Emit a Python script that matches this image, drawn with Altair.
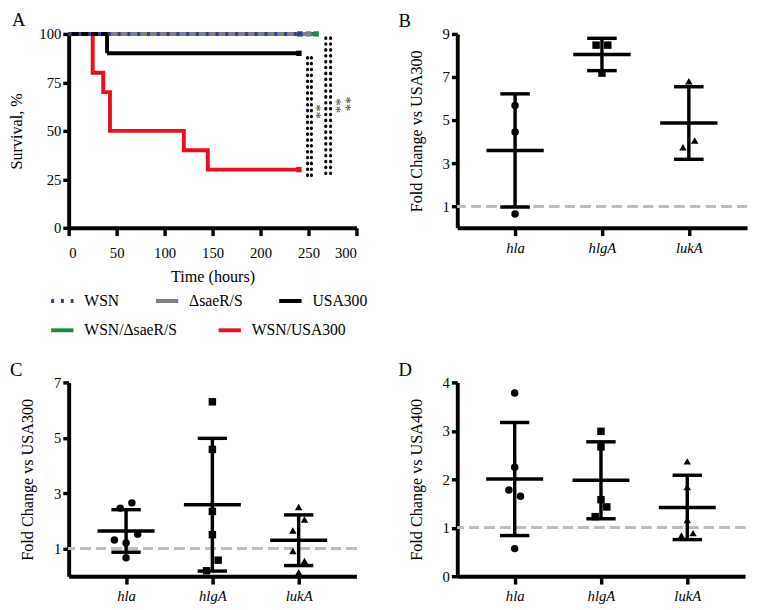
import altair as alt
import pandas as pd

FONT = "Liberation Serif, Times New Roman, serif"

# ---------------- Panel A: survival data ----------------
row1_series = ["WSN", "ΔsaeR/S", "USA300"]
row1_colors = ["#2f3f98", "#7f7f7f", "#000000"]
row2_series = ["WSN/ΔsaeR/S", "WSN/USA300"]
row2_colors = ["#1f8a3e", "#e8101c"]

wsn_time = [0, 241]
wsn_surv = [100, 100]
sae_time = [0, 250]
sae_surv = [100, 100]
usa_time = [0, 40, 240]
usa_surv = [100, 90, 90]
wsnsae_time = [0, 258]
wsnsae_surv = [100, 100]
wsnusa_time = [0, 25, 36, 43, 120, 145, 240]
wsnusa_surv = [100, 80, 70, 50, 40, 30, 30]

time_ticks = [0, 50, 100, 150, 200, 250, 300]
surv_ticks = [0, 25, 50, 75, 100]

sig_x = [249, 253, 268, 273]
sig_lo = [27, 27, 28, 28]
sig_hi = [90, 90, 100, 100]
star_x = [258, 279, 289]
star_y = [60, 63, 64]
star_text = ["**", "**", "**"]

# ---------------- Panels B-D: fold change data ----------------
genes = ["hla", "hlgA", "lukA"]

B_vals = {"hla": [5.68, 4.45, 0.64], "hlgA": [8.48, 8.48, 7.18], "lukA": [6.8, 4.05, 3.74]}
B_jit = {"hla": [0, 0, 0], "hlgA": [-1, 1, 0], "lukA": [0, 1, -1]}

C_vals = {"hla": [2.65, 2.46, 1.52, 1.31, 1.2, 0.67],
          "hlgA": [6.3, 4.58, 2.34, 1.5, 0.58, 0.2],
          "lukA": [2.5, 2.05, 1.65, 0.91, 0.55, 0.14]}
C_jit = {"hla": [1, -1, 2, -2, 0, 0], "hlgA": [0, 0, 0, 0, 1, -1], "lukA": [0, 1, -1, -1, 1, 0]}

D_vals = {"hla": [3.78, 2.25, 1.78, 1.65, 0.57],
          "hlgA": [2.99, 2.67, 1.58, 1.43, 1.23],
          "lukA": [2.37, 1.84, 1.16, 0.84, 0.89]}
D_jit = {"hla": [0, 0, -1, 1, 0], "hlgA": [0, 0, 0, 1, -1], "lukA": [0, 0, 0, -1, 1]}


def letter_title(txt, dx):
    return alt.TitleParams(text=txt, anchor="start", dx=dx, offset=-4, fontSize=19,
                           font=FONT, fontWeight="normal", color="black", frame="group")


# ---------------- Build panel A ----------------
rows = []
for s, ts, vs in [("WSN", wsn_time, wsn_surv), ("ΔsaeR/S", sae_time, sae_surv),
                  ("USA300", usa_time, usa_surv), ("WSN/ΔsaeR/S", wsnsae_time, wsnsae_surv),
                  ("WSN/USA300", wsnusa_time, wsnusa_surv)]:
    for t, v in zip(ts, vs):
        rows.append({"series": s, "time": t, "surv": v})
surv_df = pd.DataFrame(rows)

all_colors = dict(zip(row1_series + row2_series, row1_colors + row2_colors))
ends_df = surv_df.groupby("series", as_index=False).last()
ends_df["hex"] = ends_df["series"].map(all_colors)

sig_df = pd.DataFrame({"x": sig_x, "lo": sig_lo, "hi": sig_hi})
star_df = pd.DataFrame({"x": star_x, "y": star_y, "t": star_text})

AX = dict(labelFont=FONT, titleFont=FONT, labelFontSize=15, titleFontSize=16.5,
          titleFontWeight="normal", labelColor="black", titleColor="black")

xA_scale = alt.Scale(domain=[0, 300], nice=False)
yA_scale = alt.Scale(domain=[0, 100], nice=False)
xA_axis = alt.Axis(values=time_ticks, title="Time (hours)", titlePadding=9, labelPadding=10, **AX)
yA_axis = alt.Axis(values=surv_ticks, title="Survival, %", titlePadding=15, **AX)


def XA(f):
    return alt.X(f, type="quantitative", scale=xA_scale, axis=xA_axis)


def YA(f):
    return alt.Y(f, type="quantitative", scale=yA_scale, axis=yA_axis)


leg_common = dict(orient="none", direction="horizontal", symbolType="stroke",
                  symbolStrokeWidth=4, symbolSize=520, labelFont=FONT, labelFontSize=16,
                  labelOffset=9, title=None, padding=0,
                  labelColor="black", legendX=-20)

leg1 = alt.Legend(legendY=259, columnPadding=29, **leg_common)
leg2 = alt.Legend(legendY=289, columnPadding=34, **leg_common)

color1 = alt.Color("series:N", scale=alt.Scale(domain=row1_series, range=row1_colors), legend=leg1)
dash1 = alt.StrokeDash("series:N", scale=alt.Scale(domain=row1_series, range=[[3, 7], [1, 0], [1, 0]]), legend=leg1)
stroke2 = alt.Stroke("series:N", scale=alt.Scale(domain=row2_series, range=row2_colors), legend=leg2)

baseA = alt.Chart(surv_df)
lines2 = baseA.transform_filter(alt.FieldOneOfPredicate(field="series", oneOf=row2_series)).mark_line(
    interpolate="step-after", strokeWidth=4).encode(x=XA("time"), y=YA("surv"), stroke=stroke2)
lines1 = baseA.transform_filter(alt.FieldOneOfPredicate(field="series", oneOf=["ΔsaeR/S", "USA300"])).mark_line(
    interpolate="step-after", strokeWidth=4).encode(x=XA("time"), y=YA("surv"), color=color1, strokeDash=dash1)
lines_wsn = baseA.transform_filter(alt.FieldEqualPredicate(field="series", equal="WSN")).mark_line(
    interpolate="step-after", strokeWidth=4).encode(x=XA("time"), y=YA("surv"), color=color1, strokeDash=dash1)
ends = alt.Chart(ends_df).mark_square(size=30, filled=True, opacity=1).encode(
    x=XA("time"), y=YA("surv"), fill=alt.Fill("hex:N", scale=None))
sig = alt.Chart(sig_df).mark_rule(strokeDash=[0.5, 5.5], strokeCap="round", strokeWidth=3.2, color="black").encode(
    x=XA("x"), y=YA("lo"), y2="hi")
stars = alt.Chart(star_df).mark_text(angle=90, font=FONT, fontSize=15, color="#444444").encode(
    x=XA("x"), y=YA("y"), text="t:N")

panelA = alt.layer(lines2, lines1, lines_wsn, ends, sig, stars).properties(
    width=294, height=198, title=letter_title("A", -58))


# ---------------- Build gene panels ----------------
def gene_panel(vals, jits, ydom, yticks, letter, ytitle, width):
    rows = []
    for i, g in enumerate(genes):
        for v, j in zip(vals[g], jits[g]):
            rows.append({"gene": g, "idx": i, "value": v, "jit": j})
    df = pd.DataFrame(rows)
    xscale = alt.Scale(domain=[-0.665, 2.67], nice=False, zero=False)
    xaxis = alt.Axis(values=[0, 1, 2], labelExpr="['hla','hlgA','lukA'][datum.value]",
                     labelFontStyle="italic", title=None, labelPadding=5, **AX)
    yscale = alt.Scale(domain=ydom, nice=False)
    yaxis = alt.Axis(values=yticks, title=ytitle, titlePadding=18, **AX)

    def X(f):
        return alt.X(f, type="quantitative", scale=xscale, axis=xaxis)

    def Y(f):
        return alt.Y(f, type="quantitative", scale=yscale, axis=yaxis)

    base = alt.Chart(df)
    ref = base.mark_rule(strokeDash=[10, 6], color="#bdbdbd", strokeWidth=2.5).encode(
        y=alt.Y(datum=1, type="quantitative", scale=yscale, axis=yaxis))
    pts = base.transform_calculate(xp="datum.idx + datum.jit * 0.0674").mark_point(
        filled=True, size=58, opacity=1, color="black").encode(
        x=X("xp"), y=Y("value"),
        shape=alt.Shape("gene:N", scale=alt.Scale(domain=genes, range=["circle", "square", "triangle-up"]), legend=None))
    agg = base.transform_aggregate(m="mean(value)", sd="stdev(value)", groupby=["gene", "idx"]).transform_calculate(
        lo="datum.m - datum.sd", hi="datum.m + datum.sd",
        ml="datum.idx - 0.33", mr="datum.idx + 0.33",
        cl="datum.idx - 0.17", cr="datum.idx + 0.17")
    rk = dict(strokeWidth=3.5, color="black")
    mean_l = agg.mark_rule(**rk).encode(x=X("ml"), x2="mr", y=Y("m"))
    vert = agg.mark_rule(**rk).encode(x=X("idx"), y=Y("lo"), y2="hi")
    cap_lo = agg.mark_rule(**rk).encode(x=X("cl"), x2="cr", y=Y("lo"))
    cap_hi = agg.mark_rule(**rk).encode(x=X("cl"), x2="cr", y=Y("hi"))
    return alt.layer(ref, pts, mean_l, vert, cap_lo, cap_hi).properties(
        width=width, height=198, title=letter_title(letter, -60))


panelB = gene_panel(B_vals, B_jit, [0, 9], [1, 3, 5, 7, 9], "B", "Fold Change vs USA300", 296)
panelC = gene_panel(C_vals, C_jit, [0, 7], [1, 3, 5, 7], "C", "Fold Change vs USA300", 294)
panelD = gene_panel(D_vals, D_jit, [0, 4], [0, 1, 2, 3, 4], "D", "Fold Change vs USA400", 294)

chart = alt.concat(panelA, panelB, panelC, panelD, columns=2,
                   spacing={"row": 158, "column": 103}, bounds="flush", align="each").properties(
    padding={"left": 0, "top": -3, "right": 0, "bottom": 0}
).configure(font=FONT).configure_view(stroke=None).configure_axis(
    grid=False, domainColor="black", domainWidth=4, tickColor="black", tickWidth=3.5,
    labelFont=FONT, labelFontSize=15, labelColor="black", labelPadding=2,
    titleFont=FONT, titleFontSize=16.5, titleFontWeight="normal", titleColor="black"
).configure_axisX(tickSize=8).configure_axisY(tickSize=6).configure_legend(labelFont=FONT)

chart.save("out.html", embed_options={"renderer": "svg", "actions": False})
